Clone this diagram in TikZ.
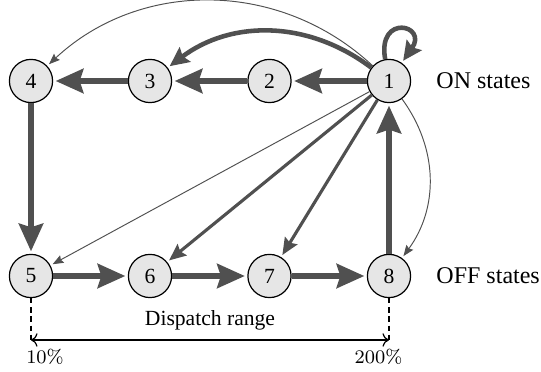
\documentclass[tikz,border=0pt]{standalone}
\usepackage[no-math]{fontspec}
\setmainfont{Liberation Serif}
\usetikzlibrary{arrows.meta}
\definecolor{arr}{RGB}{80,80,80}
\definecolor{nfill}{RGB}{230,230,230}
\tikzset{
  st/.style={circle, draw=black, line width=0.5pt, fill=nfill, minimum size=18pt, inner sep=0pt, font=\small},
  thickarr/.style={draw=arr, line width=2.8pt, -{Stealth[length=11.5pt,width=10pt,inset=1.5pt]}, shorten >=1pt},
  medarr/.style={draw=arr, line width=1.3pt, -{Stealth[length=7pt,width=6pt,inset=1pt]}, shorten >=1pt},
  curvarr/.style={draw=arr, line width=1.9pt, -{Stealth[length=8pt,width=7.5pt,inset=1.2pt]}, shorten >=1pt},
  thinarr/.style={draw=arr, line width=0.4pt, -{Stealth[length=4.5pt,width=3.5pt,inset=0.6pt]}, shorten >=1pt},
  lbl/.style={font=\normalsize, anchor=west, inner sep=0pt},
}
\begin{document}
\begin{tikzpicture}[x=0.41667pt, y=-0.41667pt]
\useasboundingbox (0,0) rectangle (541,372);
\node[st] (n1) at (389,81) {1};
\node[st] (n2) at (269.5,81) {2};
\node[st] (n3) at (150,81) {3};
\node[st] (n4) at (31,81) {4};
\node[st] (n5) at (31,276) {5};
\node[st] (n6) at (150,276) {6};
\node[st] (n7) at (269.5,276) {7};
\node[st] (n8) at (389,276) {8};
\node[lbl] (on) at (436,81) {ON states};
\node[lbl] (off) at (436,276) {OFF states};
% thick chain
\draw[thickarr] (n1) -- (n2);
\draw[thickarr] (n2) -- (n3);
\draw[thickarr] (n3) -- (n4);
\draw[thickarr] (n4) -- (n5);
\draw[thickarr] (n5) -- (n6);
\draw[thickarr] (n6) -- (n7);
\draw[thickarr] (n7) -- (n8);
\draw[thickarr] (n8) -- (n1);
% from 1
\draw[curvarr] (n1) to[bend right=37] (n3);
\draw[curvarr] (n1) to[out=100,in=55,looseness=7] (n1);
\draw[thinarr] (n1) to[bend right=43] (n4);
\draw[thinarr] (n1) -- (n5);
\draw[medarr] (n1) -- (n6);
\draw[medarr] (n1) -- (n7);
\draw[thinarr] (n1) to[bend left=36] (n8);
% dispatch range
\coordinate (a) at (31,340);
\coordinate (b) at (389,340);
\draw[dash pattern=on 2.2pt off 1.6pt, line width=0.6pt] (n5) -- (a);
\draw[dash pattern=on 2.2pt off 1.6pt, line width=0.6pt] (n8) -- (b);
\draw[<->, line width=0.5pt] (a) -- (b);
\node[font=\small] (dr) at (210,320) {Dispatch range};
\node[font=\footnotesize, inner sep=0pt] (p10) at (45,357) {$10\%$};
\node[font=\footnotesize, inner sep=0pt] (p200) at (378.5,357) {$200\%$};
\end{tikzpicture}
\end{document}
